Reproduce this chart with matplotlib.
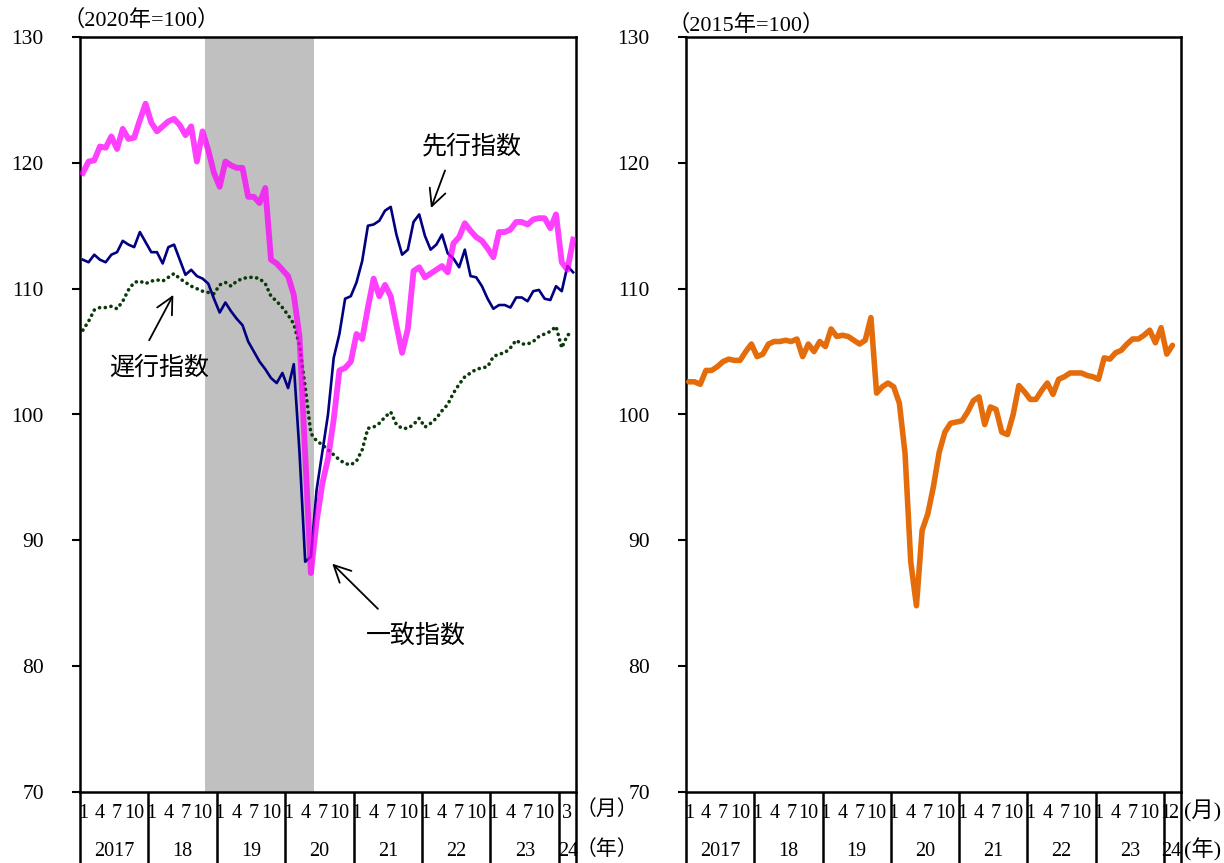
import matplotlib
matplotlib.use("Agg")
import matplotlib.pyplot as plt
import matplotlib.transforms as mtransforms

plt.rcParams['font.family'] = ['Liberation Serif', 'Noto Sans CJK JP']

# Monthly series, Jan 2017 onward
year_labels = ["2017", "18", "19", "20", "21", "22", "23", "24"]
month_labels = ["1", "4", "7", "10"]

# Composite indexes (2020=100), Jan 2017 - Mar 2024
leading = [119.2, 120.1, 120.2, 121.3, 121.2, 122.1, 121.1, 122.7, 121.9, 122.0, 123.4, 124.7,
           123.2, 122.5, 122.9, 123.3, 123.5, 123.0, 122.2, 122.9, 120.1, 122.5, 121.0, 119.2,
           118.1, 120.1, 119.8, 119.6, 119.6, 117.3, 117.3, 116.8, 118.0, 112.3, 112.0, 111.5,
           111.0, 109.5, 106.2, 96.8, 87.4, 91.5, 94.5, 96.5, 99.6, 103.5, 103.7, 104.2,
           106.4, 106.0, 108.5, 110.8, 109.4, 110.3, 109.4, 107.1, 104.9, 106.8, 111.4, 111.7,
           110.9, 111.2, 111.5, 111.8, 111.3, 113.6, 114.1, 115.2, 114.6, 114.1, 113.8, 113.2,
           112.5, 114.5, 114.5, 114.7, 115.3, 115.3, 115.1, 115.5, 115.6, 115.6, 114.8, 115.9,
           112.1, 111.5, 113.9]
coincident = [112.3, 112.1, 112.7, 112.3, 112.1, 112.7, 112.9, 113.8, 113.5, 113.3, 114.5, 113.7,
              112.9, 112.9, 112.0, 113.3, 113.5, 112.3, 111.1, 111.5, 111.0, 110.8, 110.4, 109.2,
              108.1, 108.9, 108.2, 107.6, 107.1, 105.8, 105.0, 104.2, 103.6, 102.9, 102.5, 103.3,
              102.1, 104.0, 97.0, 88.3, 88.7, 94.0, 97.0, 100.0, 104.5, 106.4, 109.2, 109.4,
              110.5, 112.2, 115.0, 115.1, 115.4, 116.2, 116.5, 114.3, 112.7, 113.1, 115.3, 115.9,
              114.2, 113.1, 113.5, 114.3, 112.8, 112.4, 111.7, 113.1, 111.0, 110.9, 110.2, 109.2,
              108.4, 108.7, 108.7, 108.5, 109.3, 109.3, 109.0, 109.8, 109.9, 109.2, 109.1, 110.2,
              109.8, 111.8, 111.3]
lagging = [106.7, 107.4, 108.3, 108.5, 108.5, 108.6, 108.4, 109.0, 109.9, 110.5, 110.6, 110.4,
           110.6, 110.7, 110.6, 110.9, 111.2, 110.8, 110.5, 110.2, 110.0, 109.8, 109.7, 109.6,
           110.3, 110.5, 110.2, 110.6, 110.8, 110.9, 110.9, 110.8, 110.4, 109.4, 109.0, 108.5,
           107.9, 107.2, 105.5, 102.2, 98.5, 97.9, 97.6, 97.2, 96.8, 96.4, 96.1, 96.0,
           96.3, 97.2, 98.9, 99.0, 99.3, 99.8, 100.2, 99.2, 98.9, 98.9, 99.2, 99.7,
           99.0, 99.3, 99.7, 100.3, 100.8, 101.7, 102.4, 103.0, 103.3, 103.6, 103.7, 103.8,
           104.6, 104.8, 104.9, 105.3, 105.9, 105.6, 105.6, 105.8, 106.2, 106.4, 106.6, 107.0,
           105.3, 106.3, 106.6]
# Index (2015=100), Jan 2017 - Feb 2024
index_2015 = [102.6, 102.6, 102.4, 103.5, 103.5, 103.8, 104.2, 104.4, 104.3, 104.3, 105.0, 105.6,
              104.6, 104.8, 105.6, 105.8, 105.8, 105.9, 105.8, 106.0, 104.6, 105.6, 105.0, 105.8,
              105.4, 106.8, 106.2, 106.3, 106.2, 105.9, 105.6, 105.9, 107.7, 101.7, 102.2, 102.5,
              102.2, 100.9, 96.9, 88.3, 84.8, 90.8, 92.1, 94.3, 97.0, 98.6, 99.3, 99.4,
              99.5, 100.2, 101.1, 101.4, 99.2, 100.6, 100.4, 98.6, 98.4, 100.0, 102.3, 101.8,
              101.2, 101.2, 101.9, 102.5, 101.6, 102.8, 103.0, 103.3, 103.3, 103.3, 103.1, 103.0,
              102.8, 104.5, 104.4, 104.9, 105.1, 105.6, 106.0, 106.0, 106.3, 106.7, 105.7, 106.9,
              104.8, 105.5]

# Recession period in month indexes (Nov 2018 - May 2020)
recession_start, recession_end = 22, 40

N_MONTHS = 87  # Jan 2017 - Mar 2024

fig = plt.figure(figsize=(12.24, 8.63), dpi=100)
ax1 = fig.add_axes([80 / 1224, 1 - 792 / 863, 496 / 1224, 755 / 863])
ax2 = fig.add_axes([686 / 1224, 1 - 792 / 863, 495 / 1224, 755 / 863])


def frame(ax, last_month_labels, last_year_x):
    ax.set_xlim(0, N_MONTHS)
    ax.set_ylim(70, 130)
    ax.set_yticks(range(70, 131, 10))
    ax.set_xticks([])
    ax.tick_params(axis='y', direction='out', length=6, width=1.5,
                   labelsize=15.5, pad=20)
    for sp in ax.spines.values():
        sp.set_linewidth(1.8)
    trans = mtransforms.blended_transform_factory(ax.transData, ax.transAxes)
    bounds = list(range(0, 85, 12)) + [N_MONTHS]
    for b in bounds:
        ax.plot([b, b], [0, -0.11], transform=trans, color='black',
                lw=1.8, clip_on=False, solid_capstyle='butt')
    for y in range(7):
        for k, lab in enumerate(month_labels):
            ax.text(y * 12 + 3 * k + 0.5, -0.028, lab, transform=trans,
                    ha='center', va='center', fontsize=14.5)
        ax.text(y * 12 + 6, -0.079, year_labels[y], transform=trans,
                ha='center', va='center', fontsize=14.5)
    for xpos, lab in last_month_labels:
        ax.text(xpos, -0.028, lab, transform=trans,
                ha='center', va='center', fontsize=14.5)
    ax.text(last_year_x, -0.079, year_labels[7], transform=trans,
            ha='center', va='center', fontsize=14.5)


# Left panel: composite indexes
frame(ax1, [(85.4, "3")], 85.6)
x_left = [i + 0.5 for i in range(len(leading))]
ax1.axvspan(recession_start, recession_end + 1, color='#C0C0C0', lw=0, zorder=0)
ax1.plot(x_left, lagging, color='#0A3A0A', lw=2.6, ls=(0, (0.05, 1.55)),
         dash_capstyle='round', zorder=2)
ax1.plot(x_left, coincident, color='#000080', lw=1.9, zorder=3)
ax1.plot(x_left, leading, color='#FF00FF', alpha=0.75, lw=4.2,
         solid_joinstyle='round', zorder=4)

arrow = dict(arrowstyle='->', lw=1.3, color='black', mutation_scale=30)
ax1.annotate('', xy=(61.4, 116.2), xytext=(64.2, 119.6), arrowprops=arrow)
ax1.text(68.7, 121.3, '先行指数', ha='center', va='center', fontsize=18)
ax1.annotate('', xy=(16.6, 109.7), xytext=(11.9, 105.7), arrowprops=arrow)
ax1.text(13.8, 103.7, '遅行指数', ha='center', va='center', fontsize=18)
ax1.annotate('', xy=(43.9, 88.3), xytext=(52.6, 84.4), arrowprops=arrow)
ax1.text(58.9, 82.4, '一致指数', ha='center', va='center', fontsize=18)

fig.text(62 / 1224, 1 - 20 / 863, '（2020年=100）', ha='left', va='center', fontsize=16)
fig.text(607 / 1224, 1 - 810 / 863, '（月）', ha='center', va='center', fontsize=15)
fig.text(607 / 1224, 1 - 850 / 863, '（年）', ha='center', va='center', fontsize=15)

# Right panel
frame(ax2, [(84.3, "1"), (85.7, "2")], 85.3)
x_right = [i + 0.5 for i in range(len(index_2015))]
ax2.plot(x_right, index_2015, color='#E46C0A', lw=4.0,
         solid_joinstyle='round', solid_capstyle='round', zorder=3)

fig.text(668 / 1224, 1 - 25 / 863, '（2015年=100）', ha='left', va='center', fontsize=16)
fig.text(1203 / 1224, 1 - 811 / 863, '(月)', ha='center', va='center', fontsize=16)
fig.text(1203 / 1224, 1 - 850 / 863, '(年)', ha='center', va='center', fontsize=16)

fig.savefig('out.png', dpi=100)
